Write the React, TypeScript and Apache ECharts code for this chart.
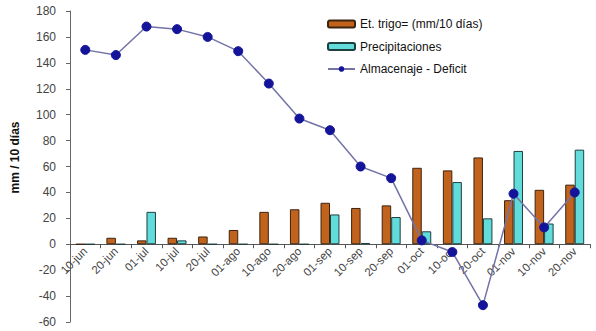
import React, { useEffect, useRef } from "react";
import * as echarts from "echarts";

const categories = ["10-jun", "20-jun", "01-jul", "10-jul", "20-jul", "01-ago", "10-ago", "20-ago", "01-sep", "10-sep", "20-sep", "01-oct", "10-oct", "20-oct", "01-nov", "10-nov", "20-nov"];
const etTrigo = [0, 5, 3, 5, 6, 11, 25, 27, 32, 28, 30, 59, 57, 67, 34, 42, 46];
const precipitaciones = [0, 0, 25, 3, 0, 0, 0, 0, 23, 1, 21, 10, 48, 20, 72, 16, 73];
const almacenaje = [150, 146, 168, 166, 160, 149, 124, 97, 88, 60, 51, 3, -6, -47, 39, 13, 40];
const yMin = -60;
const yMax = 180;

const FONT = "Liberation Sans, Arial, sans-serif";
const GRID_TOP = 11;
const GRID_BOTTOM = 9;
const H = 331;

export default function App() {
  const ref = useRef<HTMLDivElement>(null);
  useEffect(() => {
    if (!ref.current) return;
    const chart = echarts.init(ref.current, null, { renderer: "svg" });
    const plotH = H - GRID_TOP - GRID_BOTTOM;
    const zeroOffset = -plotH * (0 - yMin) / (yMax - yMin);
    chart.setOption({
      animation: false,
      backgroundColor: "#ffffff",
      textStyle: { fontFamily: FONT },
      grid: { left: 70, right: 6, top: GRID_TOP, bottom: GRID_BOTTOM, containLabel: false, outerBoundsMode: "none" },
      legend: {
        orient: "vertical",
        left: 322,
        top: 13,
        itemWidth: 27,
        itemHeight: 7,
        itemGap: 10.5,
        textStyle: { fontSize: 12, color: "#111", fontFamily: FONT },
        data: ["Et. trigo= (mm/10 días)", "Precipitaciones", "Almacenaje - Deficit"],
      },
      xAxis: {
        type: "category",
        data: categories,
        boundaryGap: true,
        offset: zeroOffset,
        axisLine: { onZero: false, lineStyle: { color: "#555", width: 1 } },
        axisTick: { show: true, length: 4, lineStyle: { color: "#555" } },
        axisLabel: { rotate: 45, fontSize: 11.5, color: "#444", margin: 5, interval: 0, fontFamily: FONT },
      },
      yAxis: {
        type: "value",
        min: yMin,
        max: yMax,
        interval: 20,
        name: "mm / 10 días",
        nameLocation: "middle",
        nameGap: 49,
        nameTextStyle: { fontSize: 12, fontWeight: "bold", color: "#111", fontFamily: FONT, padding: [0, 0, 0, 18] },
        axisLine: { show: true, lineStyle: { color: "#666" } },
        axisTick: { show: true, length: 4, lineStyle: { color: "#666" } },
        axisLabel: { fontSize: 12, color: "#444", margin: 14, fontFamily: FONT },
        splitLine: { show: false },
      },
      series: [
        {
          name: "Et. trigo= (mm/10 días)",
          type: "bar",
          data: etTrigo,
          barGap: "0%",
          barCategoryGap: "38%",
          itemStyle: { color: "#C2631D", borderColor: "#3b2410", borderWidth: 1 },
        },
        {
          name: "Precipitaciones",
          type: "bar",
          data: precipitaciones,
          barGap: "0%",
          barCategoryGap: "38%",
          itemStyle: { color: "#62DCDA", borderColor: "#1f3f3f", borderWidth: 1 },
        },
        {
          name: "Almacenaje - Deficit",
          type: "line",
          data: almacenaje,
          symbol: "circle",
          symbolSize: 9,
          lineStyle: { color: "#7373A8", width: 1.5 },
          itemStyle: { color: "#14149A", borderColor: "#14149A" },
          z: 5,
        },
      ],
    });
    return () => chart.dispose();
  }, []);
  return <div ref={ref} style={{ position: "fixed", left: 0, top: 0, width: 596, height: H }} />;
}
